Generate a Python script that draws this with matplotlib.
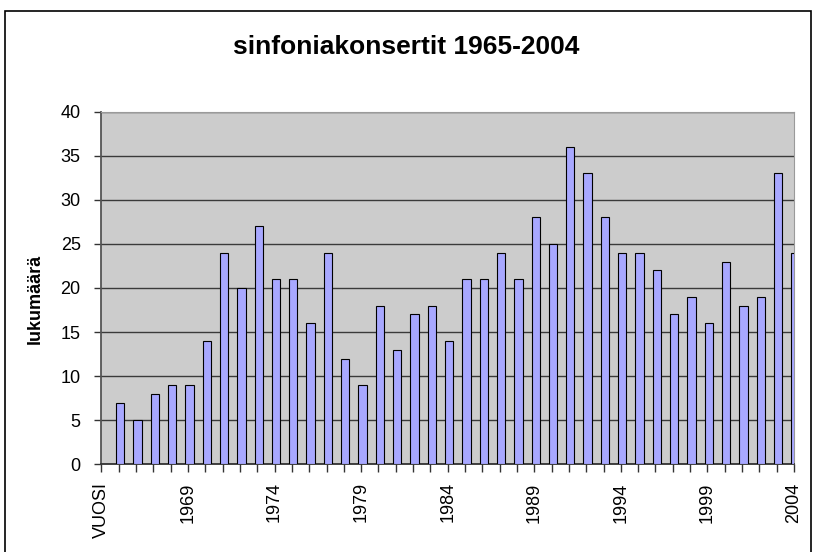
import matplotlib.pyplot as plt
from matplotlib.patches import Rectangle

plt.rcParams['font.family'] = ['Liberation Sans', 'DejaVu Sans']

vuodet = list(range(1965, 2005))
konsertit = [7, 5, 8, 9, 9, 14, 24, 20, 27, 21,
             21, 16, 24, 12, 9, 18, 13, 17, 18, 14,
             21, 21, 24, 21, 28, 25, 36, 33, 28, 24,
             24, 22, 17, 19, 16, 23, 18, 19, 33, 24]
kategoriat = ['VUOSI'] + [str(v) for v in vuodet]

fig = plt.figure(figsize=(8.13, 5.52), dpi=100)
fig.patches.append(Rectangle((5 / 813, -0.01), 806 / 813, 1 - 11 / 552 + 0.01,
                             transform=fig.transFigure, fill=False,
                             edgecolor='black', linewidth=1.2))

ax = fig.add_axes([0.1248, 0.1589, 0.8518, 0.6388])
ax.set_facecolor('#CCCCCC')

x = [i + 1 for i in range(len(konsertit))]
ax.bar([xi + 0.08 for xi in x], konsertit, width=0.48, color='#A8A8FF',
       edgecolor='black', linewidth=0.8, zorder=3)

ax.set_xlim(0, 40)
ax.set_ylim(0, 40)
ax.set_yticks(range(0, 41, 5))
ax.yaxis.grid(True, color='#3a3a3a', linewidth=1.0, zorder=1)
ax.set_axisbelow(True)

ax.set_xticks(range(0, 41, 5))
ax.set_xticklabels(kategoriat[::5], rotation=90, fontsize=13)
ax.set_xticks(range(0, 41), minor=True)
ax.tick_params(axis='x', which='both', direction='out', length=6, width=1,
               color='#333333', pad=7)
ax.tick_params(axis='y', direction='out', length=5, width=1,
               color='#333333', pad=10, labelsize=13)

ax.spines['left'].set_color('#555555')
ax.spines['bottom'].set_color('#333333')
ax.spines['left'].set_linewidth(1.3)
ax.spines['bottom'].set_linewidth(1.3)
ax.spines['top'].set_color('#9a9a9a')
ax.spines['right'].set_color('#9a9a9a')

ax.set_ylabel('lukumäärä', fontsize=13, fontweight='bold')
ax.yaxis.set_label_coords(-0.083, 0.47)
fig.text(406 / 813, 1 - 47 / 552, 'sinfoniakonsertit 1965-2004',
         ha='center', va='center', fontsize=19, fontweight='bold')

fig.savefig('out.png', dpi=100)
